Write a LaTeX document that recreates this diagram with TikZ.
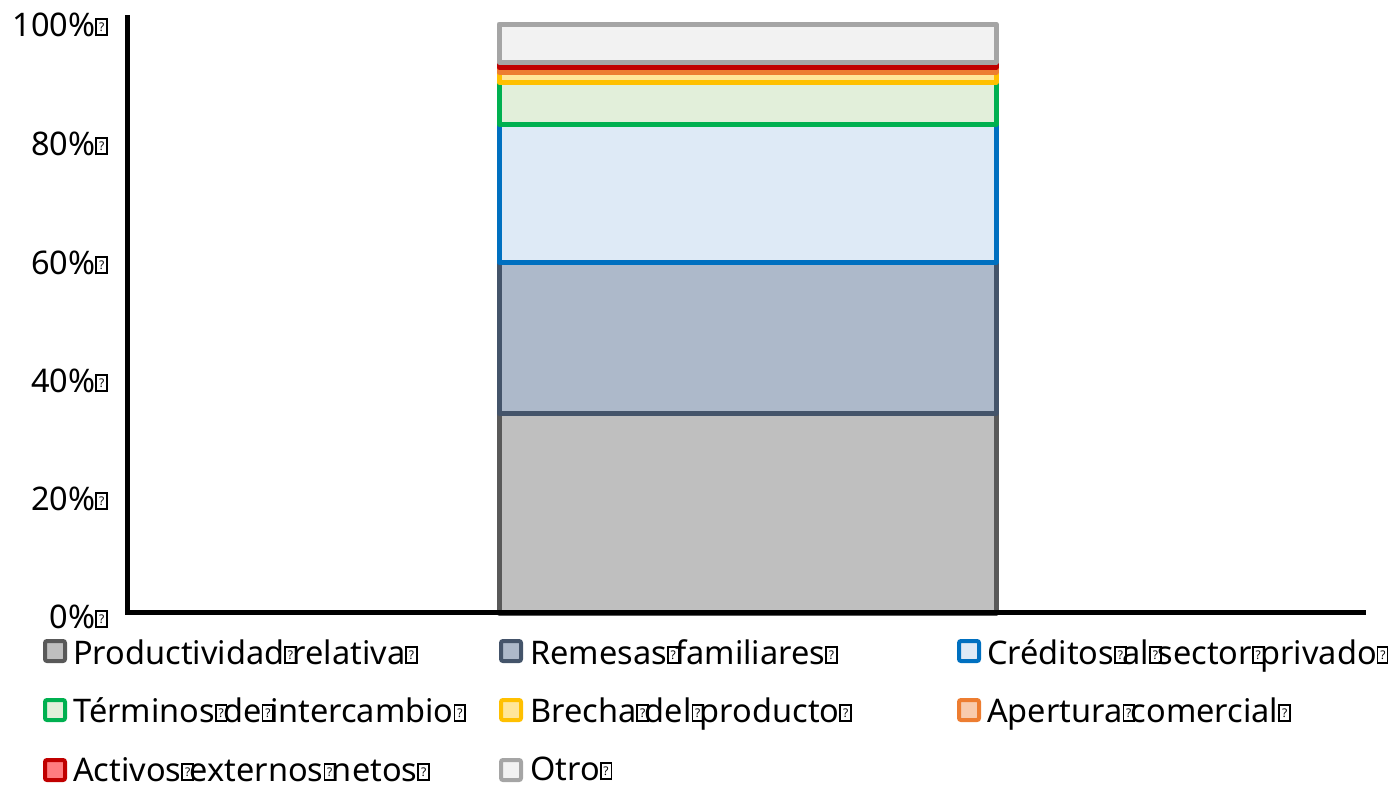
\documentclass[tikz,border=0pt]{standalone}
\usepackage{fontspec}
\setmainfont{Noto Sans}
\newcommand\qbx{\makebox[0.26em][l]{\hbox{\vrule width 1.8pt height 18pt depth 0pt\vbox to 18pt{\hrule width 9pt height 1.8pt\vfil\hbox to 9pt{\hfil\fontsize{12}{12}\selectfont ?\hfil}\vfil\hrule width 9pt height 1.8pt}\vrule width 1.8pt height 18pt depth 0pt}}}
\definecolor{prodB}{HTML}{595959}\definecolor{prodF}{HTML}{BFBFBF}
\definecolor{remB}{HTML}{44546A}\definecolor{remF}{HTML}{ADB9CA}
\definecolor{creB}{HTML}{0070C0}\definecolor{creF}{HTML}{DEEAF6}
\definecolor{terB}{HTML}{00B050}\definecolor{terF}{HTML}{E2EFDA}
\definecolor{breB}{HTML}{FFC000}\definecolor{breF}{HTML}{FFE699}
\definecolor{aptB}{HTML}{ED7D31}\definecolor{aptF}{HTML}{F8CBAD}
\definecolor{actB}{HTML}{C00000}\definecolor{actF}{HTML}{FF7C80}
\definecolor{otrB}{HTML}{A5A5A5}\definecolor{otrF}{HTML}{F2F2F2}
\tikzset{
  seg/.style 2 args={draw=#1, fill=#2, line width=5pt, line join=round},
  mk/.style 2 args={draw=#1, fill=#2, line width=4pt, rounded corners=2pt},
  ylab/.style={anchor=base east, inner sep=0pt, font=\fontsize{32.5}{38}\selectfont},
  leg/.style={anchor=base west, inner sep=0pt, font=\fontsize{32.5}{38}\selectfont},
  axis/.style={line width=5pt, black}
}
\begin{document}
\begin{tikzpicture}[x=1pt,y=-1pt]
\useasboundingbox (0,0) rectangle (1388,788);
% bar segments, bottom to top
\draw[seg={prodB}{prodF}] (499,613) rectangle (996,413);
\draw[seg={remB}{remF}] (499,413) rectangle (996,262);
\draw[seg={creB}{creF}] (499,262) rectangle (996,124);
\draw[seg={terB}{terF}] (499,124) rectangle (996,82);
\draw[seg={breB}{breF}] (499,82) rectangle (996,72);
\draw[seg={aptB}{aptF}] (499,72) rectangle (996,67);
\draw[seg={actB}{actF}] (499,67) rectangle (996,63);
\draw[seg={otrB}{otrF}] (499,62) rectangle (996,24);
% axes
\coordinate (ytop) at (127.5,15);
\coordinate (orig) at (127.5,612.5);
\coordinate (xend) at (1366,612.5);
\draw[axis] (ytop) -- (orig) -- (xend);
% y labels
\node[ylab] (l100) at (104,36) {100\%\qbx};
\node[ylab] (l80) at (104,155) {80\%\qbx};
\node[ylab] (l60) at (104,274) {60\%\qbx};
\node[ylab] (l40) at (104,392) {40\%\qbx};
\node[ylab] (l20) at (104,510) {20\%\qbx};
\node[ylab] (l0) at (104,628) {0\%\qbx};
% legend
\draw[mk={prodB}{prodF}] (45,641) rectangle (65,661);
\node[leg] (t1) at (73,664) {Productividad\qbx relativa\qbx};
\draw[mk={remB}{remF}] (501,641) rectangle (521,661);
\node[leg] (t2) at (530,664) {Remesas\qbx familiares\qbx};
\draw[mk={creB}{creF}] (959,641) rectangle (979,661);
\node[leg] (t3) at (987,664) {Créditos\qbx al\qbx sector\qbx privado\qbx};
\draw[mk={terB}{terF}] (45,700) rectangle (65,720);
\node[leg] (t4) at (73,722) {Términos\qbx de\qbx intercambio\qbx};
\draw[mk={breB}{breF}] (501,700) rectangle (521,720);
\node[leg] (t5) at (530,722) {Brecha\qbx del\qbx producto\qbx};
\draw[mk={aptB}{aptF}] (959,700) rectangle (979,720);
\node[leg] (t6) at (987,722) {Apertura\qbx comercial\qbx};
\draw[mk={actB}{actF}] (45,760) rectangle (65,780);
\node[leg] (t7) at (73,781) {Activos\qbx externos\qbx netos\qbx};
\draw[mk={otrB}{otrF}] (501,760) rectangle (521,780);
\node[leg] (t8) at (530,780) {Otro\qbx};
\end{tikzpicture}
\end{document}
